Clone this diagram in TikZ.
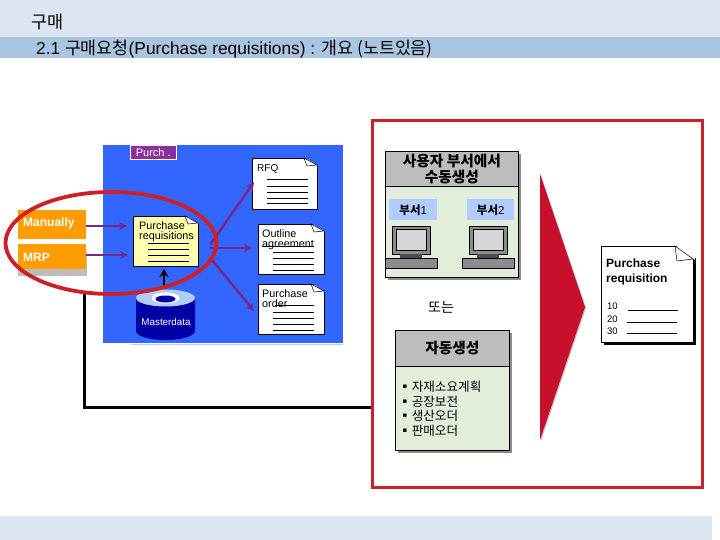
\documentclass[tikz,border=0pt]{standalone}
\usepackage{fontspec}
\setmainfont{Liberation Sans}
\newfontfamily\kr{Noto Sans CJK KR}
\usetikzlibrary{arrows.meta}
\definecolor{bandlight}{HTML}{DCE6F2}
\definecolor{bandmid}{HTML}{A9C5E2}
\definecolor{panelblue}{HTML}{3366FF}
\definecolor{tabpurple}{HTML}{8A2F9C}
\definecolor{arrowpurple}{HTML}{74288C}
\definecolor{framered}{HTML}{CC1F26}
\definecolor{wedgered}{HTML}{C8102E}
\definecolor{orangebox}{HTML}{FF9C00}
\definecolor{noteyellow}{HTML}{FFFFB0}
\definecolor{boxgreen}{HTML}{E3EDDC}
\definecolor{headgray}{HTML}{BDBDBD}
\definecolor{tagblue}{HTML}{B3CCFF}
\definecolor{pcgray}{HTML}{8C8C8C}
\definecolor{screengray}{HTML}{D6D6D6}
\tikzset{
 x=1pt,y=-1pt,
 box/.style={draw=black,line width=0.7pt,inner sep=0pt,anchor=north west},
 flow/.style={draw=arrowpurple,line width=2.5pt,-{Stealth[length=8pt,width=8pt]}},
 orangetag/.style={fill=orangebox,inner sep=0pt,anchor=north west},
 tinydoc/.style={font=\fontsize{10.8}{10.8}\selectfont,align=left,anchor=north west,inner sep=0pt},
 rule/.style={draw=black,line width=0.6pt},
 kbox/.style={font=\kr\bfseries\fontsize{14.7}{16.5}\selectfont,align=center},
}
% x y w h fill name
\newcommand{\docnode}[6]{%
 \node[box,fill=#5,minimum width=#3pt,minimum height=#4pt] (#6) at (#1,#2) {};
 \fill[panelblue] ({#1+#3-13},{#2-1}) -- ({#1+#3+1},{#2-1}) -- ({#1+#3+1},{#2+8}) -- cycle;
 \draw[black,line width=0.5pt,fill=white] ({#1+#3-13},{#2}) -- ({#1+#3},{#2+7}) -- ({#1+#3-10},{#2+8}) -- cycle;
}
\newcommand{\pcset}[3]{%
 \fill[pcgray,draw=black,line width=0.4pt] (#1,#2) rectangle ({#1+38},{#2+28});
 \fill[screengray,draw=black,line width=0.4pt] ({#1+4},{#2+3.5}) rectangle ({#1+34},{#2+24});
 \fill[black!70] ({#1+8},{#2+28}) rectangle ({#1+30},{#2+32});
 \fill[pcgray,draw=black,line width=0.4pt] ({#1+#3},{#2+32}) rectangle ({#1+#3+52},{#2+42});
}
\begin{document}
\begin{tikzpicture}
\useasboundingbox (0,0) rectangle (720,540);
\fill[white] (0,0) rectangle (720,540);
% bands
\fill[bandlight] (0,0) rectangle (720,37);
\fill[bandmid] (0,37) rectangle (720,58);
\fill[bandlight] (0,516) rectangle (712,540);
\node[anchor=west,inner sep=0pt,font=\kr\fontsize{17.5}{18}\selectfont] (title) at (31,22) {구매};
\node[anchor=west,inner sep=0pt,font=\fontsize{17.3}{18}\selectfont] (subtitle) at (36,49) {2.1 {\kr 구매요청}(Purchase requisitions) : {\kr 개요 (노트있음)}};
% blue panel
\draw[tagblue,line width=0.8pt] (131,344) -- (343,344);
\node[fill=panelblue,inner sep=0pt,anchor=north west,minimum width=240pt,minimum height=198pt] (panel) at (103,145) {};
\node[fill=tabpurple,draw=white,line width=0.6pt,anchor=north west,inner sep=0pt,minimum width=46pt,minimum height=14pt,text=white,font=\fontsize{11}{11}\selectfont] (tab) at (130,145) {Purch .};
% black feedback line
\coordinate (fbstart) at (84,293);
\coordinate (fbcorner) at (84,407);
\coordinate (fbend) at (372,407);
\draw[black,line width=3pt] (fbstart) -- (fbcorner) -- (fbend);
% orange tags
\fill[headgray] (18,252) rectangle (87,276);
\node[orangetag,minimum width=68pt,minimum height=29pt] (manually) at (18,210) {};
\node[orangetag,minimum width=68pt,minimum height=25pt] (mrp) at (18,244) {};
\node[anchor=west,inner sep=0pt,text=white,font=\bfseries\fontsize{12}{12}\selectfont] (manuallyt) at (23,223) {Manually};
\node[anchor=west,inner sep=0pt,text=white,font=\bfseries\fontsize{12}{12}\selectfont] (mrpt) at (23,257) {MRP};
% documents
\docnode{133}{216}{65}{50}{noteyellow}{preq}
\node[tinydoc] (preqt) at (139,221.5) {Purchase\\[-0.8pt]requisitions};
\foreach \y in {243,249,255,261}{\draw[rule] (148,\y) -- (189,\y);}
\docnode{252}{158}{65}{51}{white}{rfq}
\node[tinydoc,font=\fontsize{10}{10}\selectfont] (rfqt) at (257,164) {RFQ};
\foreach \y in {179,186,192,198,203}{\draw[rule] (267,\y) -- (308,\y);}
\docnode{258}{224}{66}{50}{white}{outline}
\node[tinydoc] (outlinet) at (262,229.5) {Outline\\[-0.8pt]agreement};
\draw[rule] (262,246) -- (314,246);
\foreach \y in {252,258,264,270}{\draw[rule] (273,\y) -- (314,\y);}
\docnode{258}{284}{66}{50}{white}{po}
\node[tinydoc] (pot) at (262,289.5) {Purchase\\[-0.8pt]order};
\draw[rule] (275,305) -- (314,305);
\foreach \y in {312,318,324,330}{\draw[rule] (273,\y) -- (314,\y);}
% cylinder
\fill[blue!65!black] (136,298) -- (136,331) arc[start angle=180,end angle=360,x radius=29.5,y radius=-9] -- (195,298) -- cycle;
\fill[tagblue] (165.5,298) ellipse[x radius=29.5,y radius=8.5];
\fill[white] (165.5,298) ellipse[x radius=14,y radius=5.5];
\fill[blue!65!black] (165.5,299) ellipse[x radius=10,y radius=3.5];
\node[inner sep=0pt,text=white,font=\fontsize{9.8}{10}\selectfont] (master) at (166,322) {Masterdata};
\coordinate (cyltop) at (164,286);
\coordinate (preqbot) at (164,269);
\draw[black,line width=2.6pt,-{Stealth[length=8pt,width=9pt]}] (cyltop) -- (preqbot);
% flows
\coordinate (a1) at (86,226); \coordinate (a2) at (127,226);
\coordinate (b1) at (86,255); \coordinate (b2) at (128,255);
\coordinate (c0) at (210,245); \coordinate (c1) at (254,182);
\coordinate (d0) at (210,248); \coordinate (d1) at (252,248);
\coordinate (e0) at (212,260); \coordinate (e1) at (254,311);
\draw[flow] (a1) -- (a2);
\draw[flow] (b1) -- (b2);
\draw[flow] (c0) -- (c1);
\draw[flow] (d0) -- (d1);
\draw[flow] (e0) -- (e1);
% red ellipse
\draw[framered,line width=3.8pt] (111,243) ellipse[x radius=105.5,y radius=51];
% red frame
\draw[framered,line width=3pt] (372,121) rectangle (702,487);
% user box
\fill[black!45] (388,154) rectangle (521,280);
\node[box,fill=boxgreen,minimum width=133pt,minimum height=126pt] (userbox) at (385,151) {};
\node[box,fill=headgray,minimum width=133pt,minimum height=35pt,kbox] (userhead) at (385,151) {\raisebox{-1pt}{사용자 부서에서}\\\raisebox{-1pt}{수동생성}};
\node[fill=tagblue,inner sep=0pt,anchor=north west,minimum width=48pt,minimum height=21pt,font=\fontsize{11.5}{12}\selectfont] (dept1) at (389,199) {{\kr\bfseries 부서}1};
\node[fill=tagblue,inner sep=0pt,anchor=north west,minimum width=47pt,minimum height=21pt,font=\fontsize{11.5}{12}\selectfont] (dept2) at (467,199) {{\kr\bfseries 부서}2};
\pcset{392}{226}{-7}
\pcset{469}{226}{-7}
\node[inner sep=0pt,font=\kr\fontsize{14}{14}\selectfont] (ortext) at (441,307) {또는};
% auto box
\fill[black!45] (398,333) rectangle (512,453);
\node[box,fill=boxgreen,minimum width=114pt,minimum height=120pt] (autobox) at (395,330) {};
\node[box,fill=headgray,minimum width=114pt,minimum height=36pt,kbox] (autohead) at (395,330) {\raisebox{-1.5pt}{자동생성}};
\node[anchor=north west,inner sep=0pt,align=left,font=\kr\fontsize{12.6}{14.6}\selectfont] (autolist) at (398.5,381) {▪\kern0.5pt 자재소요계획\\▪\kern0.5pt 공장보전\\▪\kern0.5pt 생산오더\\▪\kern0.5pt 판매오더};
% red wedge
\fill[black!25] (541,175) -- (586,308) -- (541,441) -- cycle;
\fill[wedgered] (540,174) -- (585,307) -- (540,440) -- cycle;
% result doc
\fill[black] (604,258) rectangle (696,345);
\node[box,fill=white,minimum width=92pt,minimum height=96pt] (result) at (601,246) {};
\fill[white] (675,245) -- (695,245) -- (695,260) -- cycle;
\draw[black,line width=0.5pt,fill=white] (675,246) -- (693,259) -- (677,261) -- cycle;
\node[inner sep=0pt,anchor=north west,align=left,font=\bfseries\fontsize{12}{14.5}\selectfont] (resultt) at (606,259) {Purchase\\requisition};
\node[inner sep=0pt,anchor=west,font=\fontsize{9.5}{10}\selectfont] (n10) at (607,306) {10};
\node[inner sep=0pt,anchor=west,font=\fontsize{9.5}{10}\selectfont] (n20) at (607,319) {20};
\node[inner sep=0pt,anchor=west,font=\fontsize{9.5}{10}\selectfont] (n30) at (607,331) {30};
\draw[rule] (628,310) -- (678,310);
\draw[rule] (627,322) -- (677,322);
\draw[rule] (627,333) -- (677,333);
\end{tikzpicture}
\end{document}
